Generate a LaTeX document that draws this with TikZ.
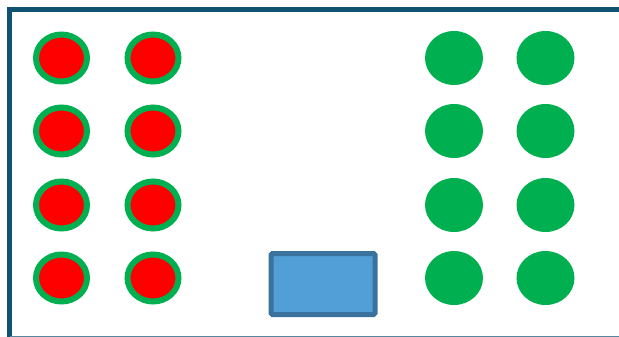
\documentclass[tikz,border=0pt]{standalone}
\usetikzlibrary{shapes.geometric}
\definecolor{framec}{RGB}{16,82,114}
\definecolor{ringg}{RGB}{0,176,80}
\definecolor{boxfill}{RGB}{82,158,214}
\definecolor{boxline}{RGB}{58,114,158}
\begin{document}
\begin{tikzpicture}[x=1pt,y=-1pt,
  redseat/.style={ellipse,draw=ringg,line width=6pt,fill=red,minimum width=51pt,minimum height=47pt,inner sep=0pt},
  greenseat/.style={ellipse,fill=ringg,minimum width=58pt,minimum height=54pt,inner sep=0pt},
  deskbox/.style={draw=boxline,line width=5pt,fill=boxfill,rounded corners=1.5pt,minimum width=104pt,minimum height=61pt,inner sep=0pt}]
\useasboundingbox (0,0) rectangle (619,337);
\clip (0,0) rectangle (619,337);
\draw[framec,line width=5.5pt] (9.5,345) -- (9.5,9.5) -- (640,9.5);
\draw[framec!70,line width=4pt] (9.5,337.6) -- (640,337.6);
\foreach \r/\y in {1/58,2/131,3/205,4/278}{
  \node[redseat] (r\r a) at (61.5,\y) {};
  \node[redseat] (r\r b) at (153,\y) {};
  \node[greenseat] (g\r a) at (454,\y) {};
  \node[greenseat] (g\r b) at (545.5,\y) {};
}
\node[deskbox] (desk) at (323,284) {};
\end{tikzpicture}
\end{document}
